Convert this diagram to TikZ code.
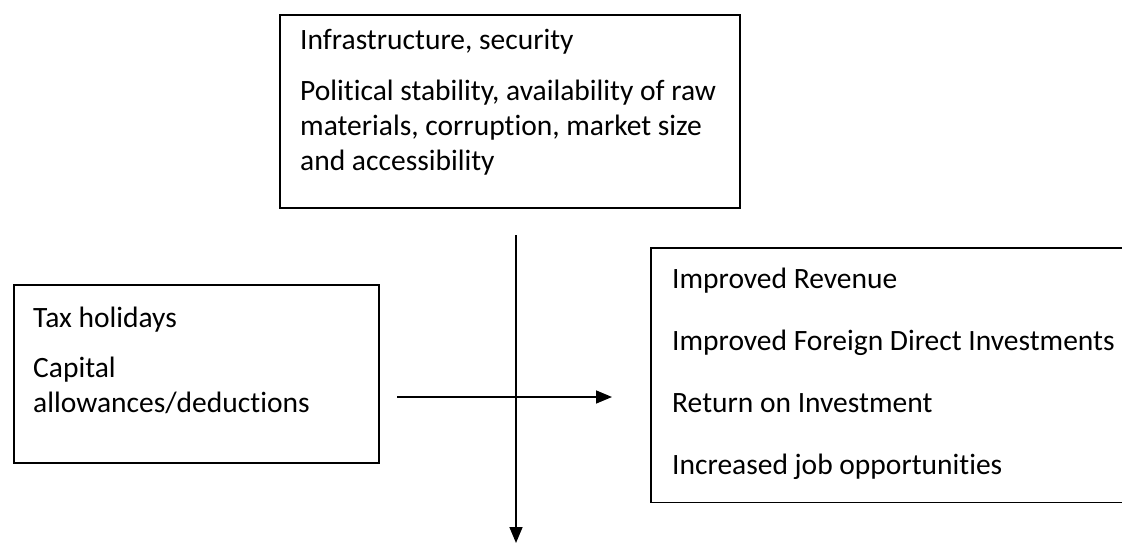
\documentclass[tikz,border=0pt]{standalone}
\usepackage{fontspec}
\setmainfont{Carlito}[Ligatures=NoCommon]
\usetikzlibrary{arrows.meta}
\begin{document}
\begin{tikzpicture}[x=1pt,y=-1pt,
  boxline/.style={line width=1.6pt, draw=black},
  txt/.style={anchor=base west, inner sep=0pt, font=\fontsize{29.5}{33}\selectfont},
  arr/.style={line width=1.6pt, -{Triangle[length=16pt,width=13pt]}}]
\useasboundingbox (0,0) rectangle (1122,543);
% top box
\node[boxline, minimum width=460pt, minimum height=193pt, anchor=north west, inner sep=0pt] (topbox) at (279,14) {};
\node[txt] (t1) at (300,50) {Infrastructure, security};
\node[txt] (t2) at (300,100) {Political stability, availability of raw};
\node[txt] (t3) at (300,135) {materials, corruption, market size};
\node[txt] (t4) at (300,170) {and accessibility};
% left box
\node[boxline, minimum width=365pt, minimum height=178pt, anchor=north west, inner sep=0pt] (leftbox) at (13,284) {};
\node[txt] (l1) at (33,327) {Tax holidays};
\node[txt] (l2) at (33,377) {Capital};
\node[txt] (l3) at (33,412) {allowances/deductions};
% right box (open on the right)
\node[minimum width=471pt, minimum height=254pt, anchor=north west, inner sep=0pt] (rightbox) at (651,248) {};
\draw[line width=1.6pt] (rightbox.north east) -- (rightbox.north west) -- (rightbox.south west) -- (rightbox.south east);
\node[txt] (r1) at (672,288) {Improved Revenue};
\node[txt] (r2) at (672,350) {Improved Foreign Direct Investments};
\node[txt] (r3) at (672,412) {Return on Investment};
\node[txt] (r4) at (672,474) {Increased job opportunities};
% arrows
\coordinate (vtop) at (516,235);
\coordinate (vbot) at (516,543);
\coordinate (hleft) at (397,397);
\coordinate (hright) at (612,397);
\draw[arr] (vtop) -- (vbot);
\draw[arr] (hleft) -- (hright);
\end{tikzpicture}
\end{document}
